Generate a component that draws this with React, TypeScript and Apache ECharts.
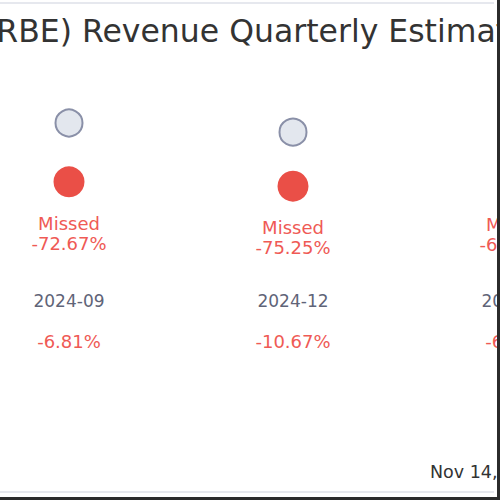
import { useEffect, useRef } from "react";
import * as echarts from "echarts";

// quarter labels and values (revenue, millions)
const quarters = ["2024-09", "2024-12", "2025-03"];
const estimates = [1.5, 1.33, 1.2];
const actuals = [0.41, 0.33, 0.38];
const surprise = [-72.67, -75.25, -68.33];
const growth = [-6.81, -10.67, -6.2];

const titleText = "(RBE) Revenue Quarterly Estimates";
const dateText = "Nov 14, 2025";

const FONT = "DejaVu Sans";
const RED = "#ea4f47";
const RED_TEXT = "#ef5a55";

export default function App() {
  const chartRef = useRef<HTMLDivElement>(null);

  useEffect(() => {
    if (!chartRef.current) return;
    const chart = echarts.init(chartRef.current, null, { renderer: "svg" });

    const option: any = {
      animation: false,
      backgroundColor: "#ffffff",
      textStyle: { fontFamily: FONT },
      grid: {
        left: -43,
        width: 672,
        top: 42,
        bottom: 296,
        containLabel: false,
        outerBoundsMode: "none",
      },
      xAxis: {
        type: "category",
        data: quarters,
        axisLine: { show: false },
        axisTick: { show: false },
        axisLabel: {
          margin: 76,
          interval: 0,
          formatter: (v: string, i: number) =>
            `{d|${v}}\n{p|${growth[i].toFixed(2)}%}`,
          rich: {
            d: { fontSize: 17, color: "#5f6478", lineHeight: 41, fontFamily: FONT },
            p: { fontSize: 18, color: RED_TEXT, lineHeight: 41, fontFamily: FONT },
          },
        },
      },
      yAxis: {
        type: "value",
        min: 0,
        max: 3,
        show: false,
        splitLine: { show: false },
      },
      series: [
        {
          name: "Estimate",
          type: "scatter",
          data: estimates,
          symbolSize: 27,
          itemStyle: { color: "#e3e7ee", borderColor: "#8a90a8", borderWidth: 2, opacity: 1 },
        },
        {
          name: "Actual",
          type: "scatter",
          data: actuals,
          symbolSize: 31,
          itemStyle: { color: RED, opacity: 1 },
          label: {
            show: true,
            position: "bottom",
            distance: 16,
            fontSize: 18,
            lineHeight: 20,
            color: RED_TEXT,
            fontFamily: FONT,
            formatter: (p: any) =>
              `${surprise[p.dataIndex] < 0 ? "Missed" : "Beat"}\n${surprise[p.dataIndex].toFixed(2)}%`,
          },
        },
      ],
      graphic: [
        {
          type: "text",
          left: -16,
          top: 15,
          style: { text: titleText, fontSize: 31.5, fill: "#333333", fontFamily: FONT },
        },
        {
          type: "text",
          left: 430,
          top: 463,
          style: { text: dateText, fontSize: 17.5, fill: "#333333", fontFamily: FONT },
        },
        { type: "rect", shape: { x: 0, y: 2, width: 494, height: 2 }, style: { fill: "#e6e8ee" } },
        { type: "rect", shape: { x: 0, y: 491, width: 494, height: 2 }, style: { fill: "#e6e8ee" } },
        { type: "rect", z: 100, shape: { x: 497, y: 0, width: 3, height: 500 }, style: { fill: "#2b2b2b" } },
        { type: "rect", z: 100, shape: { x: 0, y: 497, width: 500, height: 3 }, style: { fill: "#2b2b2b" } },
      ],
    };

    chart.setOption(option);
    return () => chart.dispose();
  }, []);

  return (
    <div
      ref={chartRef}
      style={{ position: "fixed", left: 0, top: 0, width: 500, height: 500 }}
    />
  );
}
